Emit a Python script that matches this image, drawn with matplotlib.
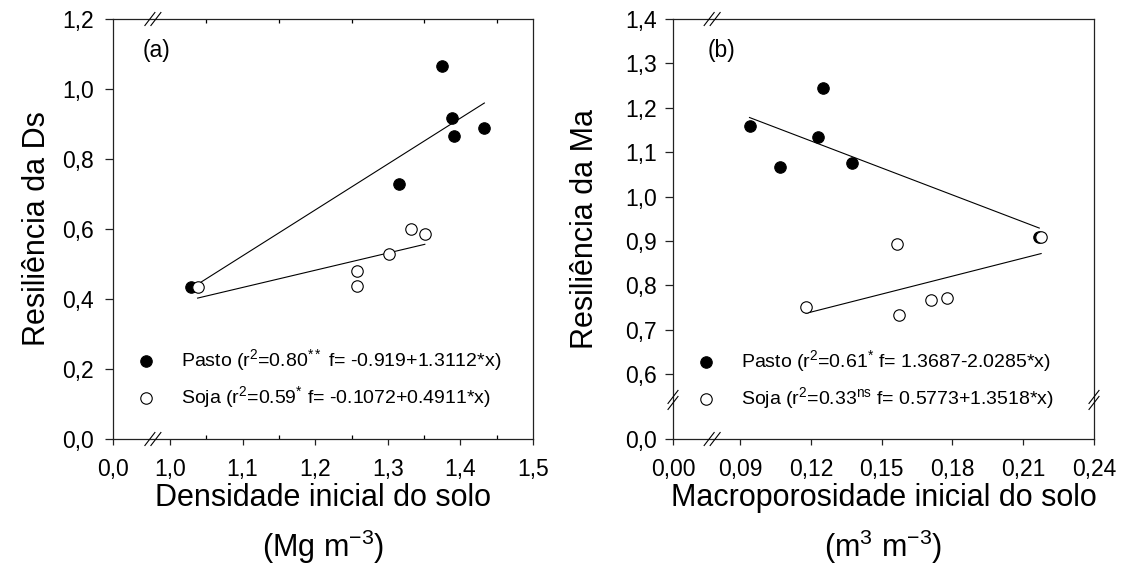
import numpy as np
import matplotlib
matplotlib.use('Agg')
import matplotlib.pyplot as plt

plt.rcParams['font.family'] = ['Liberation Sans', 'DejaVu Sans']
plt.rcParams['mathtext.fontset'] = 'custom'
plt.rcParams['mathtext.rm'] = 'Liberation Sans'
plt.rcParams['mathtext.it'] = 'Liberation Sans:italic'
plt.rcParams['mathtext.bf'] = 'Liberation Sans:bold'

# ---------------- data ----------------
dens_pasto = [1.029, 1.316, 1.375, 1.389, 1.391, 1.433]
res_ds_pasto = [0.433, 0.729, 1.066, 0.916, 0.866, 0.889]
dens_soja = [1.038, 1.257, 1.257, 1.301, 1.332, 1.351]
res_ds_soja = [0.434, 0.480, 0.437, 0.529, 0.599, 0.586]

macro_pasto = [0.094, 0.107, 0.123, 0.125, 0.1375, 0.2168]
res_ma_pasto = [1.159, 1.066, 1.134, 1.245, 1.075, 0.909]
macro_soja = [0.118, 0.1565, 0.1573, 0.171, 0.1777, 0.2176]
res_ma_soja = [0.751, 0.892, 0.732, 0.766, 0.772, 0.909]

fit_a_pasto = (-0.919, 1.3112)
fit_a_soja = (-0.1072, 0.4911)
fit_b_pasto = (1.3687, -2.0285)
fit_b_soja = (0.5773, 1.3518)

label_a_pasto = r'Pasto (r$^{\mathrm{2}}$=0.80$^{\mathrm{**}}$ f= -0.919+1.3112*x)'
label_a_soja = r'Soja (r$^{\mathrm{2}}$=0.59$^{\mathrm{*}}$ f= -0.1072+0.4911*x)'
label_b_pasto = r'Pasto (r$^{\mathrm{2}}$=0.61$^{\mathrm{*}}$ f= 1.3687-2.0285*x)'
label_b_soja = r'Soja (r$^{\mathrm{2}}$=0.33$^{\mathrm{ns}}$ f= 0.5773+1.3518*x)'

xticks_a = [0.0, 1.0, 1.1, 1.2, 1.3, 1.4, 1.5]
xticklabels_a = ['0,0', '1,0', '1,1', '1,2', '1,3', '1,4', '1,5']
xminor_a = [1.05, 1.15, 1.25, 1.35, 1.45]
yticks_a = [0.0, 0.2, 0.4, 0.6, 0.8, 1.0, 1.2]
yticklabels_a = ['0,0', '0,2', '0,4', '0,6', '0,8', '1,0', '1,2']

xticks_b = [0.0, 0.09, 0.12, 0.15, 0.18, 0.21, 0.24]
xticklabels_b = ['0,00', '0,09', '0,12', '0,15', '0,18', '0,21', '0,24']
yticks_b = [0.0, 0.6, 0.7, 0.8, 0.9, 1.0, 1.1, 1.2, 1.3, 1.4]
yticklabels_b = ['0,0', '0,6', '0,7', '0,8', '0,9', '1,0', '1,1', '1,2', '1,3', '1,4']


# ---------------- helpers ----------------
def break_scale(b, vb):
    k = vb / b

    def fwd(x):
        x = np.asarray(x, dtype=float)
        return np.where(x <= b, x * k, x - b + vb)

    def inv(v):
        v = np.asarray(v, dtype=float)
        return np.where(v <= vb, v / k, v - vb + b)
    return fwd, inv


def break_marks(ax, xf, yf, vertical=False):
    w, h = ax.bbox.width, ax.bbox.height
    dx, dy = 5.0 / w, 6.5 / h
    for s in (-1, 1):
        if vertical:
            ox, oy = 0, s * 3.0 / h
        else:
            ox, oy = s * 3.0 / w, 0
        ax.plot([xf - dx + ox, xf + dx + ox], [yf - dy + oy, yf + dy + oy],
                transform=ax.transAxes, color='black', lw=0.8,
                clip_on=False, zorder=5)


def style_axes(ax, ypad):
    for sp in ax.spines.values():
        sp.set_linewidth(0.9)
        sp.set_color('#222222')
    ax.tick_params(axis='both', which='major', labelsize=16.5, width=0.9,
                   color='#222222')
    ax.tick_params(axis='x', which='major', direction='out', length=4, pad=9.5)
    ax.tick_params(axis='y', which='major', direction='out', length=6, pad=ypad)


fig = plt.figure(figsize=(11.27, 5.76), dpi=100)
ax1 = fig.add_axes([113 / 1127, 137 / 576, 420 / 1127, 420 / 576])
ax2 = fig.add_axes([673 / 1127, 137 / 576, 421 / 1127, 420 / 576])

# ---------------- panel (a) ----------------
ax1.set_xscale('function', functions=break_scale(1.0, 57.0 / 726.0))
ax1.set_xlim(0.0, 1.5)
ax1.set_ylim(0.0, 1.2)

xa = np.array([min(dens_pasto), max(dens_pasto)])
ax1.plot(xa, fit_a_pasto[0] + fit_a_pasto[1] * xa, color='black', lw=0.8, zorder=2)
xs = np.array([min(dens_soja), max(dens_soja)])
ax1.plot(xs, fit_a_soja[0] + fit_a_soja[1] * xs, color='black', lw=0.8, zorder=2)
sp1 = ax1.scatter(dens_pasto, res_ds_pasto, s=68, c='black', edgecolors='black',
                  linewidths=0.8, zorder=3)
ss1 = ax1.scatter(dens_soja, res_ds_soja, s=68, c='white', edgecolors='black',
                  linewidths=0.8, zorder=4)

ax1.set_xticks(xticks_a)
ax1.set_xticklabels(xticklabels_a)
ax1.set_xticks(xminor_a, minor=True)
ax1.set_yticks(yticks_a)
ax1.set_yticklabels(yticklabels_a)
style_axes(ax1, 8.0)
ax1.tick_params(axis='x', which='minor', direction='in', length=3, width=0.9,
                top=True, bottom=True)

ax1.set_ylabel('Resiliência da Ds', fontsize=22, va='center', ha='center')
ax1.yaxis.set_label_coords(-0.18, 0.5)
ax1.set_xlabel('Densidade inicial do solo\n(Mg m$^{\\mathrm{-3}}$)', fontsize=22,
               va='center', ha='center', linespacing=1.5)
ax1.xaxis.set_label_coords(0.5, -0.203)
ax1.text(0.071, 0.926, '(a)', transform=ax1.transAxes, fontsize=16.5,
         ha='left', va='center')
ax1.legend([sp1, ss1], [label_a_pasto, label_a_soja], loc='center left',
           bbox_to_anchor=(0.055, 0.144), frameon=False, fontsize=14,
           handlelength=1.0, handletextpad=1.3, labelspacing=0.55,
           borderpad=0, borderaxespad=0, scatterpoints=1)

break_marks(ax1, 0.095, 0.0)
break_marks(ax1, 0.095, 1.0)

# ---------------- panel (b) ----------------
ax2.set_xscale('function', functions=break_scale(0.09, 67.0 / 2357.0))
ax2.set_yscale('function', functions=break_scale(0.6, 65.0 / 444.0))
ax2.set_xlim(0.0, 0.24)
ax2.set_ylim(0.0, 1.4)

xa = np.array([min(macro_pasto), max(macro_pasto)])
ax2.plot(xa, fit_b_pasto[0] + fit_b_pasto[1] * xa, color='black', lw=0.8, zorder=2)
xs = np.array([min(macro_soja), max(macro_soja)])
ax2.plot(xs, fit_b_soja[0] + fit_b_soja[1] * xs, color='black', lw=0.8, zorder=2)
sp2 = ax2.scatter(macro_pasto, res_ma_pasto, s=68, c='black', edgecolors='black',
                  linewidths=0.8, zorder=3)
ss2 = ax2.scatter(macro_soja, res_ma_soja, s=68, c='white', edgecolors='black',
                  linewidths=0.8, zorder=4)

ax2.set_xticks(xticks_b)
ax2.set_xticklabels(xticklabels_b)
ax2.set_yticks(yticks_b)
ax2.set_yticklabels(yticklabels_b)
ax2.xaxis.set_minor_locator(matplotlib.ticker.NullLocator())
ax2.yaxis.set_minor_locator(matplotlib.ticker.NullLocator())
style_axes(ax2, 5.5)

ax2.set_ylabel('Resiliência da Ma', fontsize=22, va='center', ha='center')
ax2.yaxis.set_label_coords(-0.209, 0.5)
ax2.set_xlabel('Macroporosidade inicial do solo\n(m$^{\\mathrm{3}}$ m$^{\\mathrm{-3}}$)',
               fontsize=22, va='center', ha='center', linespacing=1.5)
ax2.xaxis.set_label_coords(0.5, -0.203)
ax2.text(0.083, 0.926, '(b)', transform=ax2.transAxes, fontsize=16.5,
         ha='left', va='center')
ax2.legend([sp2, ss2], [label_b_pasto, label_b_soja], loc='center left',
           bbox_to_anchor=(0.055, 0.142), frameon=False, fontsize=14,
           handlelength=1.0, handletextpad=1.3, labelspacing=0.6,
           borderpad=0, borderaxespad=0, scatterpoints=1)

break_marks(ax2, 0.093, 0.0)
break_marks(ax2, 0.093, 1.0)
break_marks(ax2, 0.0, 0.093, vertical=True)
break_marks(ax2, 1.0, 0.093, vertical=True)

fig.savefig('out.png', dpi=100)
